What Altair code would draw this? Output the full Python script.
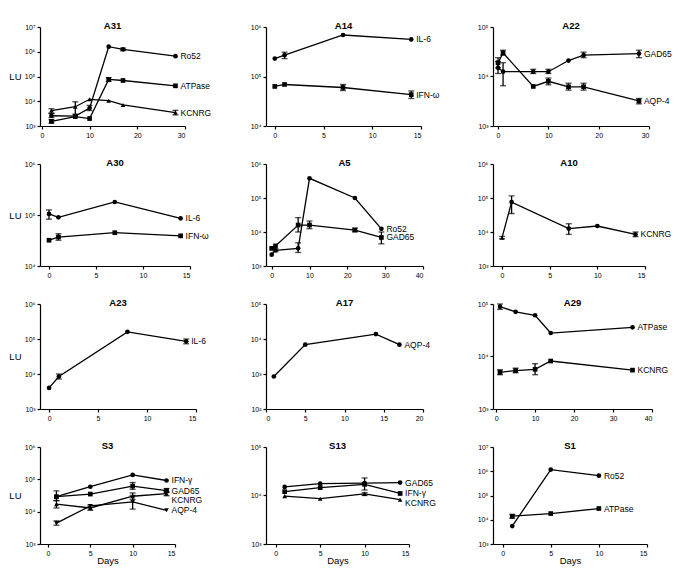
import altair as alt
import pandas as pd

FONT = "Liberation Sans"

# ---------------- data ----------------
A31_days = [2, 7, 10, 14, 17, 28]
A31_Ro52 = [2600, 2500, 5300, 1.6e6, 1.25e6, 6.6e5]
A31_Ro52_lo = [2200, None, 4200, None, 1.1e6, None]
A31_Ro52_hi = [3200, None, 6800, None, 1.4e6, None]
A31_ATPase = [1550, 2400, 2000, 7.6e4, 6.9e4, 4.2e4]
A31_ATPase_lo = [1300, None, None, 6.3e4, None, None]
A31_ATPase_hi = [1800, None, None, 9.0e4, None, None]
A31_KCNRG = [4200, 6000, 12000, 10500, 7100, 3500]
A31_KCNRG_lo = [3300, 3000, None, None, None, 2800]
A31_KCNRG_hi = [5000, 9500, None, None, None, 4300]

A14_days = [0, 1, 7, 14]
A14_IL6 = [2.3e5, 2.7e5, 6.9e5, 5.6e5]
A14_IL6_lo = [None, 2.3e5, None, None]
A14_IL6_hi = [None, 3.1e5, None, None]
A14_IFNw = [6.3e4, 6.9e4, 6.0e4, 4.3e4]
A14_IFNw_lo = [None, None, 5.2e4, 3.6e4]
A14_IFNw_hi = [None, None, 6.9e4, 5.1e4]

A22_days = [0, 1, 7, 10, 14, 17, 28]
A22_GAD65 = [1.5e4, 1.25e4, 1.25e4, 1.25e4, 2.1e4, 2.7e4, 2.9e4]
A22_GAD65_lo = [1.15e4, 6500, 1.15e4, 1.15e4, None, 2.4e4, 2.4e4]
A22_GAD65_hi = [2.0e4, 1.9e4, 1.4e4, 1.4e4, None, 3.1e4, 3.4e4]
A22_AQP4 = [1.9e4, 3.0e4, 6300, 8000, 6200, 6200, 3200]
A22_AQP4_lo = [1.5e4, 2.7e4, None, 6800, 5300, 5300, 2800]
A22_AQP4_hi = [2.4e4, 3.4e4, None, 9300, 7300, 7300, 3600]

A30_days = [0, 1, 7, 14]
A30_IL6 = [1.05e5, 9.0e4, 1.8e5, 8.6e4]
A30_IL6_lo = [8.3e4, None, None, None]
A30_IL6_hi = [1.26e5, None, None, None]
A30_IFNw = [3.2e4, 3.7e4, 4.5e4, 3.9e4]
A30_IFNw_lo = [None, 3.2e4, None, None]
A30_IFNw_hi = [None, 4.3e4, None, None]

A5_days = [0, 1, 7, 10, 22, 29]
A5_Ro52 = [2150, 2900, 3300, 3.8e5, 1.0e5, 1.24e4]
A5_Ro52_lo = [None, 2600, 2500, None, None, None]
A5_Ro52_hi = [None, 3200, 4800, None, None, None]
A5_GAD65 = [3300, 3900, 1.6e4, 1.6e4, 1.14e4, 6900]
A5_GAD65_lo = [None, None, 1.0e4, 1.25e4, 1.02e4, 4500]
A5_GAD65_hi = [None, None, 2.65e4, 2.1e4, 1.3e4, 1.0e4]

A10_days = [0, 1, 7, 10, 14]
A10_KCNRG = [6800, 7.6e4, 1.26e4, 1.5e4, 8500]
A10_KCNRG_lo = [6300, 3.5e4, 8500, None, 7300]
A10_KCNRG_hi = [7400, 1.15e5, 1.75e4, None, 1.0e4]

A23_days = [0, 1, 8, 14]
A23_IL6 = [4000, 8500, 1.6e5, 8.6e4]
A23_IL6_lo = [None, 7200, None, 7.3e4]
A23_IL6_hi = [None, 1.0e4, None, 1.0e5]

A17_days = [1, 5, 14, 17]
A17_AQP4 = [850, 6900, 1.38e4, 6900]

A29_days = [1, 5, 10, 14, 35]
A29_ATPase = [8.9e4, 7.1e4, 6.1e4, 2.8e4, 3.6e4]
A29_ATPase_lo = [7.9e4, None, None, None, None]
A29_ATPase_hi = [1.0e5, None, None, None, None]
A29_KCNRG = [5000, 5400, 5700, 8200, 5500]
A29_KCNRG_lo = [4500, 4900, 4500, None, None]
A29_KCNRG_hi = [5600, 6000, 7300, None, None]

S3_days = [1, 5, 10, 14]
S3_IFNg = [2.9e4, 5.9e4, 1.37e5, 9.2e4]
S3_GAD65 = [2.9e4, 3.5e4, 6.2e4, 4.5e4]
S3_GAD65_lo = [2.2e4, None, 4.9e4, 3.9e4]
S3_GAD65_hi = [4.4e4, None, 8.0e4, 5.2e4]
S3_KCNRG = [1.7e4, 1.3e4, 3.0e4, 3.6e4]
S3_KCNRG_lo = [1.3e4, 1.1e4, 2.4e4, 3.1e4]
S3_KCNRG_hi = [2.2e4, 1.6e4, 3.8e4, 4.2e4]
S3_AQP4 = [4400, 1.5e4, 2.0e4, 1.1e4]
S3_AQP4_lo = [3800, None, 1.2e4, None]
S3_AQP4_hi = [5200, None, 3.2e4, None]

S13_days = [1, 5, 10, 14]
S13_GAD65 = [1.5e4, 1.75e4, 1.8e4, 1.85e4]
S13_IFNg = [1.2e4, 1.45e4, 1.7e4, 1.1e4]
S13_IFNg_lo = [None, None, 1.3e4, None]
S13_IFNg_hi = [None, None, 2.3e4, None]
S13_KCNRG = [9700, 8600, 1.08e4, 8200]
S13_KCNRG_lo = [None, None, 1.0e4, None]
S13_KCNRG_hi = [None, None, 1.15e4, None]

S1_days = [1, 5, 10]
S1_Ro52 = [5500, 1.17e6, 6.6e5]
S1_ATPase = [1.4e4, 1.8e4, 2.9e4]
S1_ATPase_lo = [1.15e4, None, None]
S1_ATPase_hi = [1.65e4, None, None]

# panel: name, series list, y-limits, x-limits, x tick labels
PANELS = [
    ("A31", [("Ro52", A31_days, A31_Ro52, A31_Ro52_lo, A31_Ro52_hi),
             ("ATPase", A31_days, A31_ATPase, A31_ATPase_lo, A31_ATPase_hi),
             ("KCNRG", A31_days, A31_KCNRG, A31_KCNRG_lo, A31_KCNRG_hi)],
     [1e3, 1e7], [-0.4, 30], [0, 10, 20, 30]),
    ("A14", [("IL-6", A14_days, A14_IL6, A14_IL6_lo, A14_IL6_hi),
             ("IFN-ω", A14_days, A14_IFNw, A14_IFNw_lo, A14_IFNw_hi)],
     [1e4, 1e6], [-0.9, 15], [0, 5, 10, 15]),
    ("A22", [("GAD65", A22_days, A22_GAD65, A22_GAD65_lo, A22_GAD65_hi),
             ("AQP-4", A22_days, A22_AQP4, A22_AQP4_lo, A22_AQP4_hi)],
     [1e3, 1e5], [-1, 30], [0, 10, 20, 30]),
    ("A30", [("IL-6", A30_days, A30_IL6, A30_IL6_lo, A30_IL6_hi),
             ("IFN-ω", A30_days, A30_IFNw, A30_IFNw_lo, A30_IFNw_hi)],
     [1e4, 1e6], [-0.96, 15], [0, 5, 10, 15]),
    ("A5", [("Ro52", A5_days, A5_Ro52, A5_Ro52_lo, A5_Ro52_hi),
            ("GAD65", A5_days, A5_GAD65, A5_GAD65_lo, A5_GAD65_hi)],
     [1e3, 1e6], [-1.5, 40], [0, 10, 20, 30, 40]),
    ("A10", [("KCNRG", A10_days, A10_KCNRG, A10_KCNRG_lo, A10_KCNRG_hi)],
     [1e3, 1e6], [-0.95, 15], [0, 5, 10, 15]),
    ("A23", [("IL-6", A23_days, A23_IL6, A23_IL6_lo, A23_IL6_hi)],
     [1e3, 1e6], [-0.93, 15], [0, 5, 10, 15]),
    ("A17", [("AQP-4", A17_days, A17_AQP4)],
     [1e2, 1e5], [0, 20], [0, 5, 10, 15, 20]),
    ("A29", [("ATPase", A29_days, A29_ATPase, A29_ATPase_lo, A29_ATPase_hi),
             ("KCNRG", A29_days, A29_KCNRG, A29_KCNRG_lo, A29_KCNRG_hi)],
     [1e3, 1e5], [-0.8, 40], [0, 10, 20, 30, 40]),
    ("S3", [("IFN-γ", S3_days, S3_IFNg),
            ("GAD65", S3_days, S3_GAD65, S3_GAD65_lo, S3_GAD65_hi),
            ("KCNRG", S3_days, S3_KCNRG, S3_KCNRG_lo, S3_KCNRG_hi),
            ("AQP-4", S3_days, S3_AQP4, S3_AQP4_lo, S3_AQP4_hi)],
     [1e3, 1e6], [-0.94, 15], [0, 5, 10, 15]),
    ("S13", [("GAD65", S13_days, S13_GAD65),
             ("IFN-γ", S13_days, S13_IFNg, S13_IFNg_lo, S13_IFNg_hi),
             ("KCNRG", S13_days, S13_KCNRG, S13_KCNRG_lo, S13_KCNRG_hi)],
     [1e3, 1e5], [-1.1, 15], [0, 5, 10, 15]),
    ("S1", [("Ro52", S1_days, S1_Ro52),
            ("ATPase", S1_days, S1_ATPase, S1_ATPase_lo, S1_ATPase_hi)],
     [1e3, 1e7], [-1, 15], [0, 5, 10, 15]),
]

# ---------------- styling ----------------
SHAPES = ["circle", "square", "triangle-up", "triangle-down"]
SHAPE_OVERRIDE = {("A10", "KCNRG", 0): "triangle-up"}
SIZES = {  # plot width, height
    "A31": (145, 99), "A14": (155, 99), "A22": (156, 99),
    "A30": (150, 102), "A5": (157, 102), "A10": (152, 102),
    "A23": (156, 105), "A17": (157, 105), "A29": (159, 105),
    "S3": (135, 97), "S13": (143, 97), "S1": (154, 97),
}
LABEL_DY = {("S3", "IFN-γ"): -1, ("S3", "GAD65"): 0, ("S3", "KCNRG"): 6,
            ("S13", "KCNRG"): 3}
FIRST_COL = {"A31", "A30", "A23", "S3"}
BOTTOM_ROW = {"S3", "S13", "S1"}
SUP = "['⁰','¹','²','³','⁴','⁵','⁶','⁷','⁸','⁹']"
SUP_EXPR = "'10' + " + SUP + "[round(log(datum.value)/LN10)]"


def make_panel(name, series, ydom, xdom, xticks):
    w, h = SIZES[name]
    rows, err_rows, last_rows = [], [], []
    for si, s in enumerate(series):
        label, days, vals = s[0], s[1], s[2]
        lo = s[3] if len(s) > 3 else [None] * len(days)
        hi = s[4] if len(s) > 4 else [None] * len(days)
        for i, (d, v) in enumerate(zip(days, vals)):
            shp = SHAPE_OVERRIDE.get((name, label, i), SHAPES[si])
            rows.append({"day": d, "lu": v, "series": label, "shape": shp})
            if lo[i] is not None:
                err_rows.append({"day": d, "lo": lo[i], "hi": hi[i], "series": label})
        last_rows.append({"day": days[-1], "lu": vals[-1], "series": label})
    df = pd.DataFrame(rows)
    edf = pd.DataFrame(err_rows)

    e = ydom[0]
    decades = []
    while e <= ydom[1] * 1.0001:
        decades.append(e)
        e *= 10

    xaxis = alt.Axis(values=xticks, format="d",
                     title="Days" if name in BOTTOM_ROW else None,
                     titleFontSize=9.5, titleFontWeight="normal", titlePadding=-1)
    yaxis = alt.Axis(values=decades, labelExpr=SUP_EXPR,
                     title="LU" if name in FIRST_COL else None,
                     titleAngle=0, titleAlign="right", titleBaseline="middle",
                     titleX=-19, titleY=h / 2, titleFontSize=9.5,
                     titleFontWeight="normal")
    xs = alt.Scale(domain=xdom, nice=False, zero=False)
    ys = alt.Scale(type="log", domain=ydom, nice=False)
    X = alt.X("day:Q", scale=xs, axis=xaxis)
    Y = alt.Y("lu:Q", scale=ys, axis=yaxis)

    line = alt.Chart(df).mark_line(color="black", strokeWidth=1.3).encode(
        x=X, y=Y, detail="series:N")
    pts = alt.Chart(df).mark_point(filled=True, opacity=1, color="black", size=22).encode(
        x=X, y=Y,
        shape=alt.Shape("shape:N", scale=alt.Scale(domain=SHAPES, range=SHAPES), legend=None))
    layers = [line]
    if len(edf):
        err = alt.Chart(edf).mark_errorbar(ticks=True, size=6, thickness=1.3, color="black").encode(
            x=X, y=alt.Y("lo:Q", scale=ys, axis=yaxis), y2="hi:Q")
        layers.append(err)
    layers.append(pts)
    for r in last_rows:
        t = alt.Chart(pd.DataFrame([r])).mark_text(
            align="left", baseline="middle", dx=5, dy=LABEL_DY.get((name, r["series"]), 0),
            fontSize=8.5, font=FONT, color="black").encode(x=X, y=Y, text="series:N")
        layers.append(t)
    return alt.layer(*layers).properties(
        width=w, height=h,
        title=alt.TitleParams(text=name, fontSize=9.5, fontWeight="bold", font=FONT,
                              offset=-7, anchor="middle", color="black"))


charts = [make_panel(*p) for p in PANELS]

chart = alt.concat(
    *charts, columns=3, spacing={"row": 38, "column": 70},
    bounds="flush", align="each"
).configure_view(stroke=None).configure_axis(
    grid=False, domainColor="black", tickColor="black", labelColor="black",
    titleColor="black", labelFont=FONT, titleFont=FONT, labelFontSize=7,
    domainWidth=1.2, tickWidth=1.2, tickSize=3, labelPadding=2
).properties(
    padding={"left": 0, "top": 12, "right": 5, "bottom": 5}, background="white"
)

chart.save("out.html", embed_options={"renderer": "svg", "actions": False})
